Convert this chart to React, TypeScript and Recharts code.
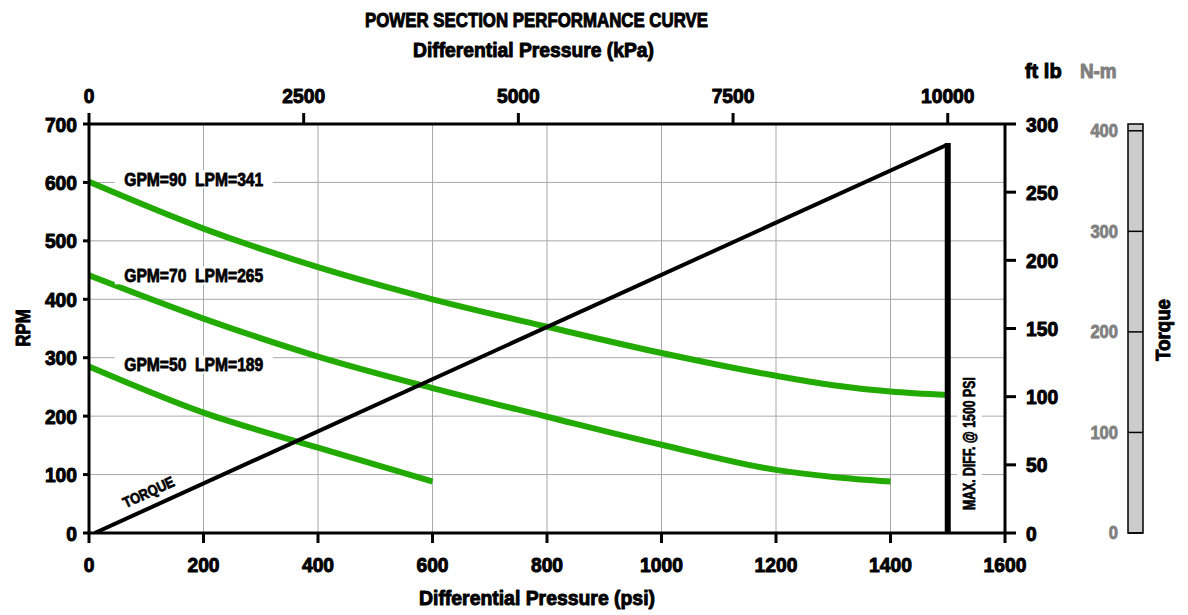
import React from 'react';
import {
  ComposedChart,
  Line,
  XAxis,
  YAxis,
  CartesianGrid,
  ReferenceDot,
  Customized,
} from 'recharts';

if (typeof document !== 'undefined') {
  document.body.style.margin = '0';
}

// ---------- data ----------
const psiTicks = [0, 200, 400, 600, 800, 1000, 1200, 1400, 1600];
const kpaTicks = [0, 2500, 5000, 7500, 10000];
const rpmTicks = [0, 100, 200, 300, 400, 500, 600, 700];
const ftTicks = [0, 50, 100, 150, 200, 250, 300];
const nmTicks = [0, 100, 200, 300, 400];

const gpm90Psi = [0, 200, 400, 600, 800, 1000, 1200, 1300, 1400, 1500];
const gpm90Rpm = [601, 521, 455, 400, 353, 308, 269, 253, 242, 236];

const gpm70Psi = [0, 200, 400, 600, 800, 1000, 1200, 1300, 1400];
const gpm70Rpm = [441, 367, 302, 248, 199, 151, 108, 96, 88];

const gpm50Psi = [0, 200, 400, 600];
const gpm50Rpm = [285, 206, 146, 88];

const torquePsi = [10, 1500];
const torqueFtLb = [0, 285];

const maxDiffPsi = [1500, 1500];
const maxDiffFtLb = [0, 286];

const seriesLabels = ['GPM=90\u00a0\u00a0LPM=341', 'GPM=70\u00a0\u00a0LPM=265', 'GPM=50\u00a0\u00a0LPM=189'];

const build = (xs: number[], ys: number[], key: string) =>
  xs.map((x, i) => ({ psi: x, [key]: ys[i] }));

const gpm90Data = build(gpm90Psi, gpm90Rpm, 'rpm');
const gpm70Data = build(gpm70Psi, gpm70Rpm, 'rpm');
const gpm50Data = build(gpm50Psi, gpm50Rpm, 'rpm');
const torqueData = build(torquePsi, torqueFtLb, 'ft');
const maxDiffData = build(maxDiffPsi, maxDiffFtLb, 'ft');
const kpaAxisData = kpaTicks.map((k) => ({ kpa: k }));

// ---------- layout / style ----------
const W = 1188;
const H = 615;
const FONT = "'Liberation Sans', Arial, sans-serif";
const GREEN = '#22aa00';
const GRID = '#a8a8a8';
const GRAY_TXT = '#808080';
const PLOT_TOP = 124;
const PLOT_BOTTOM = 533;
const PLOT_H = PLOT_BOTTOM - PLOT_TOP;
const BAR_W = 15;
const KPA_MAX = (1600 * 10000) / 1500;
const NM_MAX = 300 * 1.35582;
const DIGIT_W = 10.7;
const TICK_FS = 21;

const axisStroke = { stroke: '#000', strokeWidth: 3 };

const txt = (extra: any = {}) => {
  const fill = extra.fill || '#000';
  return {
    fontFamily: FONT,
    fontWeight: 700,
    lengthAdjust: 'spacingAndGlyphs',
    stroke: fill,
    strokeWidth: 1,
    strokeLinejoin: 'round' as const,
    ...extra,
    fill,
  };
};

const makeTick =
  (anchor: 'start' | 'middle' | 'end', dy: number) =>
  (props: any) => {
    const { x, y, payload } = props;
    const s = String(payload.value);
    return (
      <text
        x={x}
        y={y}
        dy={dy}
        textAnchor={anchor}
        textLength={s.length * DIGIT_W}
        {...txt({ fontSize: TICK_FS })}
      >
        {s}
      </text>
    );
  };

const bottomTick = makeTick('middle', 15);
const topTick = makeTick('middle', 0);
const leftTick = makeTick('end', 7.5);
const rightTick = makeTick('start', 7.5);

const NmTick = (props: any) => {
  const { x, y, payload } = props;
  const s = String(payload.value);
  return (
    <g>
      {payload.value === nmTicks[0] && (
        <rect
          x={x}
          y={y - PLOT_H}
          width={BAR_W}
          height={PLOT_H}
          fill="#cccccc"
          stroke="#000"
          strokeWidth={1.5}
        />
      )}
      <line x1={x} x2={x + BAR_W} y1={y} y2={y} stroke="#000" strokeWidth={1.5} />
      <text
        x={x - 10}
        y={y}
        dy={6.3}
        textAnchor="end"
        textLength={s.length * 9.2}
        {...txt({ fontSize: 17.5, fill: GRAY_TXT, strokeWidth: 0.8 })}
      >
        {s}
      </text>
    </g>
  );
};

const boxLabel = (text: string, w: number, h: number) => (p: any) => (
  <g>
    <rect x={p.cx - w / 2} y={p.cy - h / 2} width={w} height={h} fill="#fff" />
    <text
      x={p.cx}
      y={p.cy}
      dy={6.6}
      textAnchor="middle"
      textLength={139}
      {...txt({ fontSize: 18.5, strokeWidth: 0.8 })}
    >
      {text}
    </text>
  </g>
);

const torqueLabel = (p: any) => (
  <text
    x={p.cx}
    y={p.cy}
    dy={5.2}
    textAnchor="middle"
    textLength={55}
    transform={`rotate(-24.6, ${p.cx}, ${p.cy})`}
    {...txt({ fontSize: 15, strokeWidth: 0.7 })}
  >
    TORQUE
  </text>
);

const maxDiffLabel = (p: any) => (
  <g transform={`rotate(-90, ${p.cx}, ${p.cy})`}>
    <rect x={p.cx - 72} y={p.cy - 12.5} width={144} height={25} fill="#fff" />
    <text
      x={p.cx}
      y={p.cy}
      dy={5.8}
      textAnchor="middle"
      textLength={133}
      {...txt({ fontSize: 16.5, strokeWidth: 0.7 })}
    >
      MAX. DIFF. @ 1500 PSI
    </text>
  </g>
);

const Titles = () => (
  <g>
    <text x={536.5} y={27} textAnchor="middle" textLength={343} {...txt({ fontSize: 21 })}>
      POWER SECTION PERFORMANCE CURVE
    </text>
    <text x={533.5} y={57} textAnchor="middle" textLength={241} {...txt({ fontSize: 21 })}>
      Differential Pressure (kPa)
    </text>
    <text x={537} y={605} textAnchor="middle" textLength={236} {...txt({ fontSize: 21 })}>
      Differential Pressure (psi)
    </text>
    <text
      x={22}
      y={328}
      dy={7.5}
      textAnchor="middle"
      textLength={37}
      transform="rotate(-90, 22, 328)"
      {...txt({ fontSize: 21 })}
    >
      RPM
    </text>
    <text
      x={1162.5}
      y={330}
      dy={7.5}
      textAnchor="middle"
      textLength={62}
      transform="rotate(-90, 1162.5, 330)"
      {...txt({ fontSize: 21 })}
    >
      Torque
    </text>
    <text x={1043.3} y={78} textAnchor="middle" textLength={36.7} {...txt({ fontSize: 21 })}>
      ft lb
    </text>
    <text
      x={1098.3}
      y={78}
      textAnchor="middle"
      textLength={36.7}
      {...txt({ fontSize: 21, fill: GRAY_TXT })}
    >
      N-m
    </text>
  </g>
);

export default function App() {
  return (
    <div style={{ width: W, height: H, background: '#fff' }}>
      <ComposedChart width={W} height={H} margin={{ top: 74, right: 45, bottom: 32, left: 0 }}>
        <CartesianGrid xAxisId="psi" yAxisId="rpm" stroke={GRID} strokeWidth={1} />
        <XAxis
          xAxisId="psi"
          type="number"
          dataKey="psi"
          orientation="bottom"
          domain={[0, 1600]}
          ticks={psiTicks}
          interval={0}
          height={50}
          tickSize={10}
          tickMargin={14}
          tick={bottomTick}
          axisLine={axisStroke}
          tickLine={axisStroke}
          allowDataOverflow
        />
        <XAxis
          xAxisId="kpa"
          type="number"
          dataKey="kpa"
          orientation="top"
          domain={[0, KPA_MAX]}
          ticks={kpaTicks}
          interval={0}
          height={50}
          tickSize={11}
          tickMargin={10}
          tick={topTick}
          axisLine={axisStroke}
          tickLine={axisStroke}
          allowDataOverflow
        />
        <YAxis
          yAxisId="rpm"
          orientation="left"
          type="number"
          domain={[0, 700]}
          ticks={rpmTicks}
          interval={0}
          width={89}
          tickSize={6}
          tickMargin={6}
          tick={leftTick}
          axisLine={axisStroke}
          tickLine={axisStroke}
          allowDataOverflow
        />
        <YAxis
          yAxisId="ft"
          orientation="right"
          type="number"
          domain={[0, 300]}
          ticks={ftTicks}
          interval={0}
          width={123}
          tickSize={11}
          tickMargin={10}
          tick={rightTick}
          axisLine={axisStroke}
          tickLine={axisStroke}
          allowDataOverflow
        />
        <YAxis
          yAxisId="nm"
          orientation="right"
          type="number"
          domain={[0, NM_MAX]}
          ticks={nmTicks}
          interval={0}
          width={BAR_W}
          tickSize={0}
          tickMargin={0}
          tick={<NmTick />}
          axisLine={false}
          tickLine={false}
          allowDataOverflow
        />

        {/* carrier for the kPa axis (draws nothing) */}
        <Line
          xAxisId="kpa"
          yAxisId="rpm"
          data={kpaAxisData}
          dataKey="none"
          stroke="none"
          dot={false}
          activeDot={false}
          legendType="none"
          isAnimationActive={false}
        />

        <Line
          xAxisId="psi"
          yAxisId="rpm"
          data={gpm90Data}
          dataKey="rpm"
          type="monotone"
          stroke={GREEN}
          strokeWidth={6}
          dot={false}
          activeDot={false}
          isAnimationActive={false}
        />
        <Line
          xAxisId="psi"
          yAxisId="rpm"
          data={gpm70Data}
          dataKey="rpm"
          type="monotone"
          stroke={GREEN}
          strokeWidth={6}
          dot={false}
          activeDot={false}
          isAnimationActive={false}
        />
        <Line
          xAxisId="psi"
          yAxisId="rpm"
          data={gpm50Data}
          dataKey="rpm"
          type="monotone"
          stroke={GREEN}
          strokeWidth={6}
          dot={false}
          activeDot={false}
          isAnimationActive={false}
        />
        <Line
          xAxisId="psi"
          yAxisId="ft"
          data={torqueData}
          dataKey="ft"
          type="linear"
          stroke="#000"
          strokeWidth={4}
          dot={false}
          activeDot={false}
          isAnimationActive={false}
        />
        <Line
          xAxisId="psi"
          yAxisId="ft"
          data={maxDiffData}
          dataKey="ft"
          type="linear"
          stroke="#000"
          strokeWidth={6}
          dot={false}
          activeDot={false}
          isAnimationActive={false}
        />

        <ReferenceDot
          xAxisId="psi"
          yAxisId="rpm"
          x={183}
          y={606}
          shape={boxLabel(seriesLabels[0], 158, 18)}
        />
        <ReferenceDot
          xAxisId="psi"
          yAxisId="rpm"
          x={183}
          y={441}
          shape={boxLabel(seriesLabels[1], 158, 18)}
        />
        <ReferenceDot
          xAxisId="psi"
          yAxisId="rpm"
          x={183}
          y={288}
          shape={boxLabel(seriesLabels[2], 158, 18)}
        />
        <ReferenceDot xAxisId="psi" yAxisId="ft" x={104} y={30} shape={torqueLabel} />
        <ReferenceDot xAxisId="psi" yAxisId="rpm" x={1538} y={153} shape={maxDiffLabel} />

        <Customized component={<Titles />} />
      </ComposedChart>
    </div>
  );
}
